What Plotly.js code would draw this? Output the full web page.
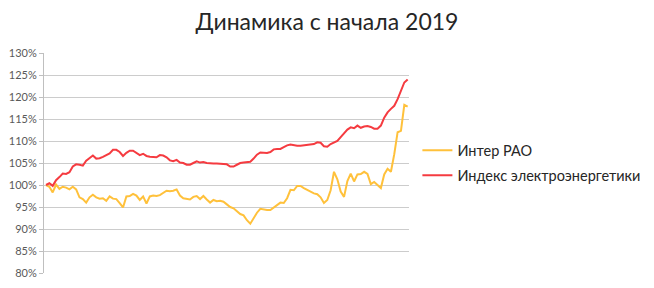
<!DOCTYPE html>
<html>
<head>
<meta charset="utf-8">
<script src="https://cdn.plot.ly/plotly-3.0.1.min.js"></script>
<style>html,body{margin:0;padding:0;background:#fff;}#chart{width:654px;height:288px;}</style>
</head>
<body>
<div id="chart"></div>
<script>
var seriesNames = ["Интер РАО", "Индекс электроэнергетики"];
var interRao = [100.0,99.6,98.3,100.1,99.1,99.6,99.4,99.0,99.6,99.0,
97.2,96.8,96.0,97.2,97.8,97.2,96.9,97.0,96.4,97.4,
96.9,96.8,95.9,94.9,97.4,97.5,98.0,97.6,96.6,97.4,
95.8,97.4,97.6,97.5,97.7,98.3,98.7,98.6,98.7,99.0,
97.6,97.0,96.8,96.7,97.3,97.5,96.8,97.5,96.7,96.0,
96.6,96.3,96.4,96.2,95.6,95.0,94.7,94.0,93.4,93.1,
92.0,91.2,92.5,93.7,94.6,94.4,94.3,94.3,94.9,95.5,
96.0,95.9,97.0,98.9,98.8,99.8,99.8,99.3,98.9,98.6,
98.1,97.9,97.2,95.9,96.6,98.8,103.0,101.3,98.5,97.3,
100.9,102.6,100.8,102.4,102.5,103.0,102.5,100.2,100.7,100.0,
99.3,102.4,103.7,103.0,107.0,112.0,112.3,118.2,117.8];
var powerIndex = [100.0,100.4,99.8,101.1,101.8,102.6,102.5,102.9,104.2,104.7,
104.6,104.4,105.5,106.2,106.7,106.0,106.1,106.4,106.8,107.2,
108.0,108.0,107.5,106.6,107.3,107.8,107.8,107.2,106.8,107.1,
106.6,106.4,106.3,106.3,106.8,106.7,106.3,105.6,105.4,105.7,
105.1,105.0,104.6,104.6,105.0,105.4,105.1,105.2,105.0,104.9,
104.9,104.9,104.8,104.8,104.7,104.2,104.2,104.6,105.0,105.1,
105.2,105.3,106.0,106.9,107.4,107.3,107.3,107.5,108.1,108.2,
108.2,108.6,109.0,109.2,109.0,108.9,108.9,109.0,109.1,109.1,
109.3,109.7,109.6,108.8,108.7,109.3,109.6,110.0,110.9,111.8,
112.6,113.1,112.9,113.5,113.0,113.3,113.4,113.2,112.8,112.8,
113.5,115.3,116.5,117.3,118.0,119.5,121.4,123.3,124.0];
var yTicks = [80,85,90,95,100,105,110,115,120,125,130];
var yTickLabels = ["80%","85%","90%","95%","100%","105%","110%","115%","120%","125%","130%"];
var days = interRao.map(function(v,i){return i;});

var font = "Lato, 'Open Sans', sans-serif";
var traces = [
  {x: days, y: interRao, name: seriesNames[0], type: "scatter", mode: "lines",
   line: {color: "#FFC13B", width: 2}, legendgroup: "a", hoverinfo: "skip"},
  {x: days, y: powerIndex, name: seriesNames[1], type: "scatter", mode: "lines",
   line: {color: "#F53B40", width: 2}, legendgroup: "b", hoverinfo: "skip"}
];
var layout = {
  width: 654, height: 288,
  margin: {l: 44, r: 245, t: 53, b: 15, pad: 0, autoexpand: false},
  paper_bgcolor: "#fff", plot_bgcolor: "#fff",
  font: {family: font, color: "#595959"},
  title: {text: "Динамика с начала 2019", font: {family: font, size: 23, color: "#262626"},
          x: 0.5, xanchor: "center", xref: "container", yref: "container", y: 0.925, yanchor: "middle"},
  xaxis: {range: [-0.6, 108.4], showgrid: false, zeroline: false, showticklabels: false,
          showline: false, ticks: ""},
  yaxis: {range: [80, 130], tickvals: yTicks, ticktext: yTickLabels, showgrid: true,
          gridcolor: "#cccccc", gridwidth: 1, zeroline: false, showline: true, linecolor: "#bfbfbf",
          linewidth: 1, ticks: "outside", ticklen: 4, tickcolor: "#bfbfbf",
          tickfont: {family: font, size: 11, color: "#595959"}},
  showlegend: true,
  legend: {x: 1.023, xanchor: "left", y: 0.63, yanchor: "top", traceorder: "grouped",
           tracegroupgap: 3, font: {family: font, size: 14.5, color: "#262626"},
           bgcolor: "rgba(0,0,0,0)", itemwidth: 30}
};
Plotly.newPlot("chart", traces, layout, {staticPlot: true, displayModeBar: false});
</script>
</body>
</html>
